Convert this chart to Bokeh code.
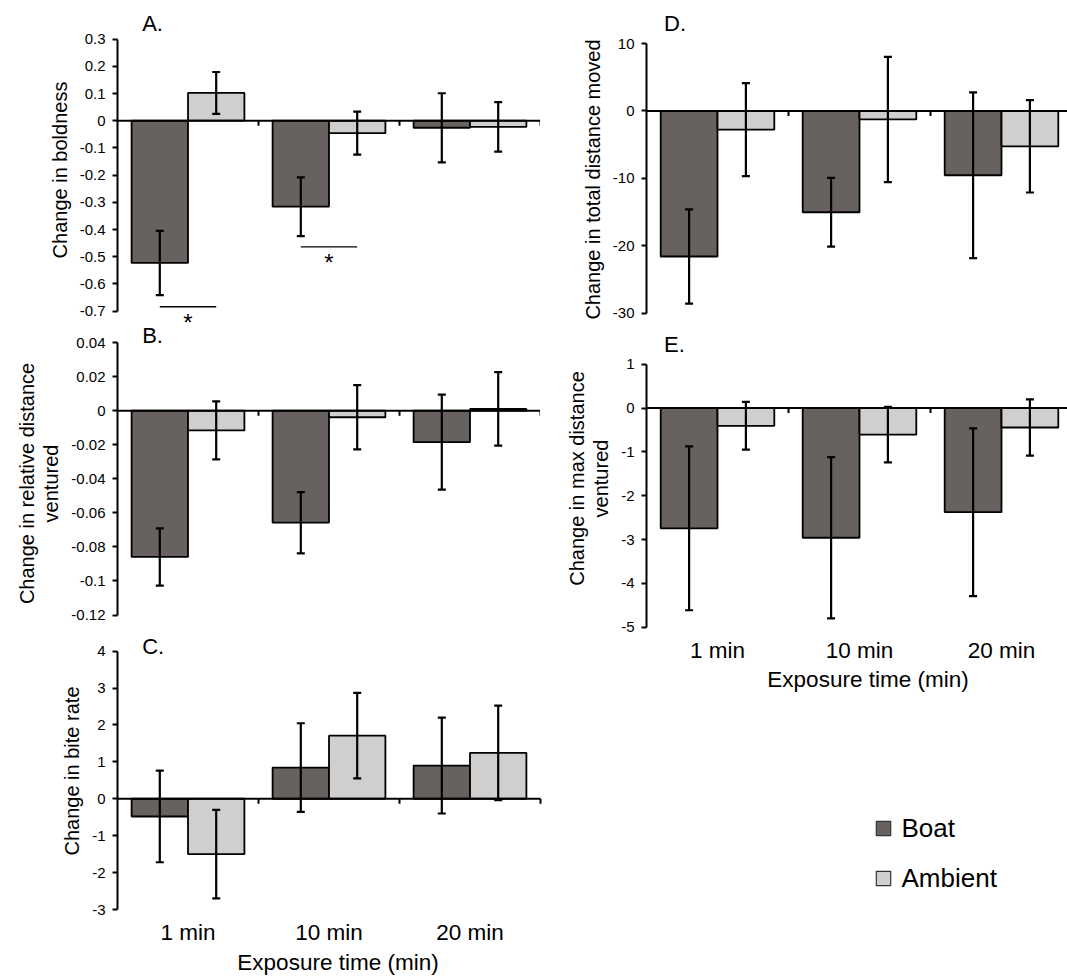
from bokeh.plotting import figure
from bokeh.layouts import row, column
from bokeh.models import (ColumnDataSource, Range1d, FixedTicker, Whisker, TeeHead,
                          Label, Legend, LegendItem)
from bokeh.embed import file_html
from bokeh.resources import INLINE

# ---------------- data ----------------
categories = ["1 min", "10 min", "20 min"]
series_names = ["Boat", "Ambient"]
x_title = "Exposure time (min)"
panel_letters = ["A.", "B.", "C.", "D.", "E."]

# A. boldness
boldness_boat = [-0.523, -0.316, -0.026]
boldness_boat_se = [0.118, 0.108, 0.127]
boldness_ambient = [0.102, -0.046, -0.023]
boldness_ambient_se = [0.077, 0.079, 0.091]
boldness_sig_categories = ["1 min", "10 min"]
boldness_sig_level = [-0.684, -0.464]
boldness_ticks = [0.3, 0.2, 0.1, 0, -0.1, -0.2, -0.3, -0.4, -0.5, -0.6, -0.7]
boldness_tick_labels = ["0.3", "0.2", "0.1", "0", "-0.1", "-0.2", "-0.3", "-0.4", "-0.5", "-0.6", "-0.7"]

# B. relative distance ventured
reldist_boat = [-0.0859, -0.0658, -0.0185]
reldist_boat_se = [0.0168, 0.018, 0.0279]
reldist_ambient = [-0.0116, -0.0039, 0.001]
reldist_ambient_se = [0.017, 0.0189, 0.0216]
reldist_ticks = [0.04, 0.02, 0, -0.02, -0.04, -0.06, -0.08, -0.1, -0.12]
reldist_tick_labels = ["0.04", "0.02", "0", "-0.02", "-0.04", "-0.06", "-0.08", "-0.1", "-0.12"]

# C. bite rate
bite_boat = [-0.48, 0.845, 0.9]
bite_boat_se = [1.24, 1.2, 1.3]
bite_ambient = [-1.5, 1.71, 1.245]
bite_ambient_se = [1.2, 1.16, 1.28]
bite_ticks = [4, 3, 2, 1, 0, -1, -2, -3]
bite_tick_labels = ["4", "3", "2", "1", "0", "-1", "-2", "-3"]

# D. total distance moved
dist_boat = [-21.6, -15.04, -9.55]
dist_boat_se = [7.0, 5.1, 12.3]
dist_ambient = [-2.77, -1.27, -5.26]
dist_ambient_se = [6.9, 9.3, 6.85]
dist_ticks = [10, 0, -10, -20, -30]
dist_tick_labels = ["10", "0", "-10", "-20", "-30"]

# E. max distance ventured
maxd_boat = [-2.745, -2.96, -2.377]
maxd_boat_se = [1.87, 1.84, 1.914]
maxd_ambient = [-0.405, -0.605, -0.443]
maxd_ambient_se = [0.545, 0.635, 0.641]
maxd_ticks = [1, 0, -1, -2, -3, -4, -5]
maxd_tick_labels = ["1", "0", "-1", "-2", "-3", "-4", "-5"]

# ---------------- style / layout ----------------
FONT = "Liberation Sans"
BOAT_COLOR = "#67625f"
AMB_COLOR = "#d0cfcd"
BAR_WIDTH = 0.4
OFFSET = 0.2
LEFT_W, C_W, RIGHT_W = 540, 558, 527
LEFT_BORDER, RIGHT_BORDER = 117, 106
LEFT_CAT_PX, RIGHT_CAT_PX = 141, 142
RIGHT_XEND = (RIGHT_W - RIGHT_BORDER) / RIGHT_CAT_PX
CAT_FONT = "22.5px"


def cat_center(name):
    return categories.index(name) + 0.5


class Geo:
    """page-pixel geometry of one panel (canvas and plotting frame)"""
    def __init__(self, fig_top, fig_bottom, frame_top, frame_bottom, tick_top_px, tick_bot_px, ticks):
        self.fig_top, self.fig_bottom = fig_top, fig_bottom
        self.frame_top, self.frame_bottom = frame_top, frame_bottom
        t_hi, t_lo = max(ticks), min(ticks)
        self.ppu = (tick_bot_px - tick_top_px) / (t_hi - t_lo)
        self.y_top = t_hi + (tick_top_px - frame_top) / self.ppu
        self.y_bot = t_lo - (frame_bottom - tick_bot_px) / self.ppu

    def to_data(self, py):
        return self.y_top - (py - self.frame_top) / self.ppu

    def to_px(self, y):
        return self.frame_top + (self.y_top - y) * self.ppu


def panel(ylabel, ticks, tick_labels, boat, boat_se, amb, amb_se, g, prev_bottom, *,
          width, left, x_end, show_x, show_title=False):
    t_hi, t_lo = max(ticks), min(ticks)
    p = figure(width=width, height=g.fig_bottom - g.fig_top, output_backend="svg",
               toolbar_location=None, title=None,
               x_range=Range1d(0, x_end), y_range=Range1d(g.y_bot, g.y_top),
               x_axis_location="below" if show_x else None,
               min_border_left=left, min_border_right=0,
               min_border_top=g.frame_top - g.fig_top,
               min_border_bottom=g.fig_bottom - g.frame_bottom,
               margin=(g.fig_top - prev_bottom, 0, 0, 0))
    p.outline_line_color = None
    p.grid.visible = False
    p.background_fill_color = None
    p.border_fill_color = None

    centers = [cat_center(c) for c in categories]
    bx = [c - OFFSET for c in centers]
    ax = [c + OFFSET for c in centers]
    p.vbar(x=bx, top=boat, bottom=0, width=BAR_WIDTH, fill_color=BOAT_COLOR,
           line_color="black", line_width=1.8)
    p.vbar(x=ax, top=amb, bottom=0, width=BAR_WIDTH, fill_color=AMB_COLOR,
           line_color="black", line_width=1.8)

    # horizontal category axis at zero with small ticks between the groups
    n = len(categories)
    p.segment(x0=[0], x1=[n], y0=[0], y1=[0], line_color="black", line_width=2)
    bounds = [i + 1 for i in range(n)]
    p.segment(x0=bounds, x1=bounds, y0=[0] * n, y1=[-5 / g.ppu] * n,
              line_color="black", line_width=2)

    for xs, vals, se in ((bx, boat, boat_se), (ax, amb, amb_se)):
        src = ColumnDataSource(dict(base=xs,
                                    upper=[v + s for v, s in zip(vals, se)],
                                    lower=[v - s for v, s in zip(vals, se)]))
        w = Whisker(source=src, base="base", upper="upper", lower="lower", level="overlay",
                    line_color="black", line_width=2.2,
                    upper_head=TeeHead(size=8, line_width=2.2, line_color="black"),
                    lower_head=TeeHead(size=8, line_width=2.2, line_color="black"))
        p.add_layout(w)

    yax = p.yaxis[0]
    yax.bounds = (t_lo, t_hi)
    yax.ticker = FixedTicker(ticks=ticks)
    yax.major_label_overrides = {t: s for t, s in zip(ticks, tick_labels)}
    yax.axis_line_width = 2
    yax.axis_line_color = "black"
    yax.major_tick_line_width = 2
    yax.major_tick_line_color = "black"
    yax.major_tick_out = 5
    yax.major_tick_in = 0
    yax.minor_tick_line_color = None
    yax.major_label_text_font = FONT
    yax.major_label_text_font_size = "15px"
    yax.major_label_text_color = "black"
    yax.major_label_standoff = 7
    yax.axis_label = ylabel
    yax.axis_label_text_font = FONT
    yax.axis_label_text_font_size = "20px"
    yax.axis_label_text_font_style = "normal"
    yax.axis_label_text_color = "black"
    yax.axis_label_standoff = 6
    yax.axis_label_text_line_height = 1.1

    if show_x:
        xax = p.xaxis[0]
        xax.ticker = FixedTicker(ticks=centers)
        xax.major_label_overrides = {c: nm for c, nm in zip(centers, categories)}
        xax.axis_line_color = None
        xax.major_tick_line_color = None
        xax.minor_tick_line_color = None
        xax.major_tick_out = 0
        xax.major_tick_in = 0
        xax.major_label_text_font = FONT
        xax.major_label_text_font_size = CAT_FONT
        xax.major_label_text_color = "black"
        xax.major_label_standoff = 10
        if show_title:
            xax.axis_label = x_title
            xax.axis_label_text_font = FONT
            xax.axis_label_text_font_size = CAT_FONT
            xax.axis_label_text_font_style = "normal"
            xax.axis_label_text_color = "black"
            xax.axis_label_standoff = 2
    return p


def add_text(p, g, text, x, page_y, x_offset=0, size="22px", align="left"):
    p.add_layout(Label(x=x, y=g.to_data(page_y), x_offset=x_offset, text=text,
                       text_font=FONT, text_font_size=size, text_color="black",
                       text_align=align, text_baseline="middle"))


# page geometry of each panel (pixels); neighbouring canvases overlap a little
gA = Geo(0, 339, 0, 339, 38.6, 310.6, boldness_ticks)
gB = Geo(320, 646, 320, 646, 342, 614.5, reldist_ticks)
gC = Geo(632, 977, 632, 909, 650.6, 909, bite_ticks)
gD = Geo(0, 349, 9, 349, 43, 312.6, dist_ticks)
gE = Geo(329, 665, 329, 627, 363.8, 626.6, maxd_ticks)

pA = panel("Change in boldness", boldness_ticks, boldness_tick_labels,
           boldness_boat, boldness_boat_se, boldness_ambient, boldness_ambient_se, gA, 0,
           width=LEFT_W, left=LEFT_BORDER, x_end=3, show_x=False)
pB = panel("Change in relative distance\nventured", reldist_ticks, reldist_tick_labels,
           reldist_boat, reldist_boat_se, reldist_ambient, reldist_ambient_se, gB, gA.fig_bottom,
           width=LEFT_W, left=LEFT_BORDER, x_end=3, show_x=False)
pC = panel("Change in bite rate", bite_ticks, bite_tick_labels,
           bite_boat, bite_boat_se, bite_ambient, bite_ambient_se, gC, gB.fig_bottom,
           width=C_W, left=LEFT_BORDER, x_end=(C_W - LEFT_BORDER) / LEFT_CAT_PX,
           show_x=True, show_title=True)
pD = panel("Change in total distance moved", dist_ticks, dist_tick_labels,
           dist_boat, dist_boat_se, dist_ambient, dist_ambient_se, gD, 0,
           width=RIGHT_W, left=RIGHT_BORDER, x_end=RIGHT_XEND, show_x=False)
pE = panel("Change in max distance\nventured", maxd_ticks, maxd_tick_labels,
           maxd_boat, maxd_boat_se, maxd_ambient, maxd_ambient_se, gE, gD.fig_bottom,
           width=RIGHT_W, left=RIGHT_BORDER, x_end=RIGHT_XEND, show_x=True)

# significance brackets in A
sig_x0 = [cat_center(c) - OFFSET for c in boldness_sig_categories]
sig_x1 = [cat_center(c) + OFFSET for c in boldness_sig_categories]
pA.segment(x0=sig_x0, x1=sig_x1, y0=boldness_sig_level, y1=boldness_sig_level,
           line_color="black", line_width=1.3)
for c, yv in zip(boldness_sig_categories, boldness_sig_level):
    add_text(pA, gA, "*", cat_center(c), gA.to_px(yv) + 15.5, size="24px", align="center")

# panel letters
add_text(pA, gA, panel_letters[0], 0, 22.5, x_offset=24.7)
add_text(pB, gB, panel_letters[1], 0, 334.5, x_offset=24.7)
add_text(pC, gC, panel_letters[2], 0, 645.5, x_offset=24.7)
add_text(pD, gD, panel_letters[3], 0, 23.2, x_offset=17.5)
add_text(pE, gE, panel_letters[4], 0, 343.5, x_offset=17.5)

# ---------------- bottom-right: x title of D/E and legend ----------------
L_TOP = 660
gL = Geo(L_TOP, 977, L_TOP, 977, L_TOP, 977, [977 - L_TOP, 0])  # y in px from bottom
pL = figure(width=RIGHT_W, height=977 - L_TOP, output_backend="svg",
            toolbar_location=None, title=None,
            x_range=Range1d(0, RIGHT_XEND), y_range=Range1d(gL.y_bot, gL.y_top),
            x_axis_location=None, y_axis_location=None,
            min_border_left=RIGHT_BORDER, min_border_right=0, min_border_top=0, min_border_bottom=0,
            margin=(L_TOP - gE.fig_bottom, 0, 0, 0))
pL.outline_line_color = None
pL.grid.visible = False
pL.background_fill_color = None
pL.border_fill_color = None
pL.add_layout(Label(x=RIGHT_XEND / 2, y=gL.to_data(678.6), x_offset=11, text=x_title,
                    text_font=FONT, text_font_size=CAT_FONT, text_color="black",
                    text_align="center", text_baseline="middle"))
leg_centers = [cat_center(c) for c in categories]
lb = pL.vbar(x=[c - OFFSET for c in leg_centers], top=maxd_boat, width=BAR_WIDTH,
             fill_color=BOAT_COLOR, line_color="#333333", line_width=1.2, visible=False)
la = pL.vbar(x=[c + OFFSET for c in leg_centers], top=maxd_ambient, width=BAR_WIDTH,
             fill_color=AMB_COLOR, line_color="#333333", line_width=1.2, visible=False)
legend = Legend(items=[LegendItem(label=series_names[0], renderers=[lb]),
                       LegendItem(label=series_names[1], renderers=[la])],
                location=(227.5, 83.5), orientation="vertical",
                border_line_color=None, background_fill_alpha=0,
                glyph_width=18, glyph_height=18, label_standoff=10, spacing=19,
                padding=0, margin=0, label_text_font=FONT, label_text_font_size="26px",
                label_text_color="black")
pL.add_layout(legend)

left_col = column(pA, pB, pC)
right_col = column(pD, pE, pL, margin=(0, 0, 0, LEFT_W - C_W))
layout = row(left_col, right_col)

open("out.html", "w").write(file_html(layout, INLINE))
